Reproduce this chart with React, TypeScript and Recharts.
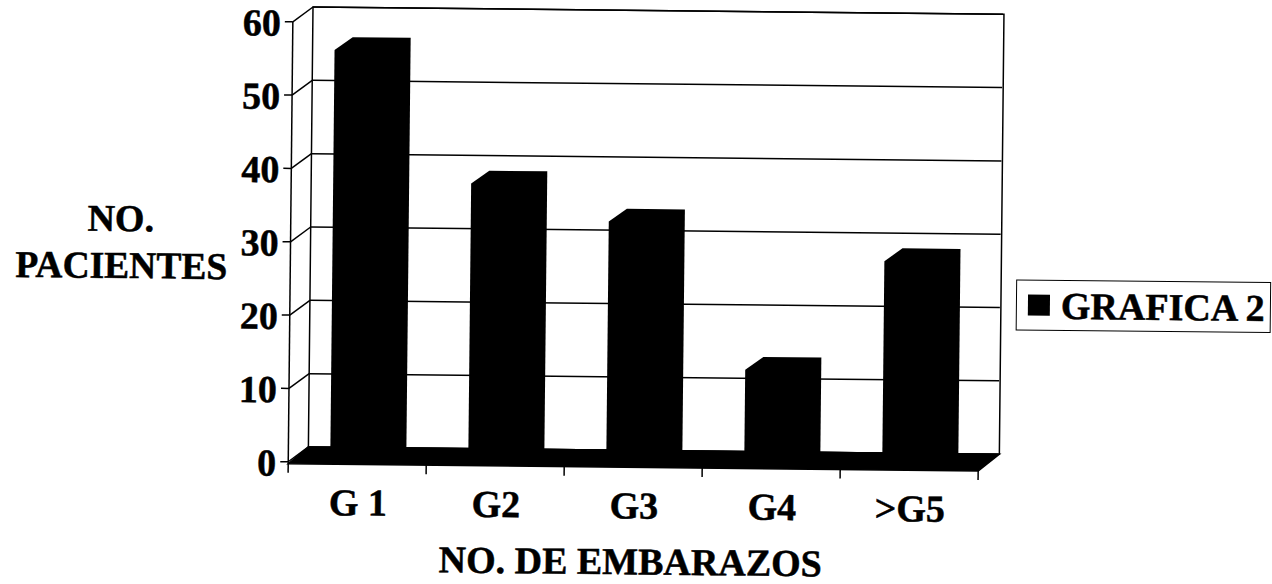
/**
 * Grafica 2: pacientes por numero de embarazos, drawn as a scanned-looking 3D column chart.
 */
import { BarChart, Bar, XAxis, YAxis, ReferenceArea, Legend } from 'recharts';

const categories = ['G 1', 'G2', 'G3', 'G4', '>G5'];
const patients = [56, 38, 33, 13, 28];
const yTicks = [0, 10, 20, 30, 40, 50, 60];
const seriesName = 'GRAFICA 2';
const xTitle = 'NO. DE EMBARAZOS';
const yTitle = ['NO.', 'PACIENTES'];

const chartData = categories.map((name, i) => ({ name, patients: patients[i] }));

const FONT = '"Liberation Serif", serif';
const FONT_SIZE = 38;
const PLOT_W = 690;
const BAND = PLOT_W / categories.length;
const DEPTH_X = 20;
const DEPTH_Y = 15;

const textProps = {
  fontFamily: FONT,
  fontWeight: 'bold',
  fontSize: FONT_SIZE,
  fill: '#000',
  stroke: '#000',
  strokeWidth: 0.5,
};

// 3D column: silhouette of front face plus top and side, all black
const Column = ({ x, y, width, height }: any) => {
  const left = x + 2;
  const top = y - 1.5;
  const bottom = y + height - 2;
  const right = left + width + 18;
  const points = [
    [left, bottom],
    [left, top],
    [left + 18, top - 13],
    [right, top - 13],
    [right, bottom],
  ];
  return <polygon points={points.map((p) => p.join(',')).join(' ')} fill="#000" />;
};

// back wall, side wall and floor from the plot rectangle
const Walls = ({ x, y, width, height }: any) => {
  const bottom = y + height;
  return (
    <g stroke="#000" strokeWidth={1.5} fill="none">
      <rect x={x + DEPTH_X} y={y - DEPTH_Y} width={width + 1} height={height} />
      <line x1={x} y1={y} x2={x} y2={bottom} />
      <polygon
        points={`${x},${bottom + 2} ${x + DEPTH_X},${bottom - DEPTH_Y} ${x + width + DEPTH_X + 1},${bottom - DEPTH_Y} ${x + width},${bottom + 2}`}
        fill="#000"
      />
    </g>
  );
};

const YTick = ({ x, y, payload }: any) => {
  const px = x + 8;
  return (
    <g>
      <line x1={px - 8} y1={y} x2={px} y2={y} stroke="#000" strokeWidth={1.5} />
      <line x1={px} y1={y} x2={px + DEPTH_X} y2={y - DEPTH_Y} stroke="#000" strokeWidth={1.5} />
      <line x1={px + DEPTH_X} y1={y - DEPTH_Y} x2={px + DEPTH_X + PLOT_W} y2={y - DEPTH_Y} stroke="#000" strokeWidth={1.5} />
      <text x={px - 12} y={y + 14} textAnchor="end" {...textProps}>
        {payload.value}
      </text>
    </g>
  );
};

const XTick = ({ x, y, payload, index }: any) => (
  <g>
    <line x1={x - BAND / 2} y1={y - 8} x2={x - BAND / 2} y2={y + 3} stroke="#000" strokeWidth={1.5} />
    {index === categories.length - 1 && (
      <line x1={x + BAND / 2} y1={y - 8} x2={x + BAND / 2} y2={y + 3} stroke="#000" strokeWidth={1.5} />
    )}
    <text x={x + 1} y={y + 45} textAnchor="middle" {...textProps}>
      {payload.value}
    </text>
  </g>
);

const XTitle = () => (
  <text x={636} y={571} textAnchor="middle" {...textProps}>
    {xTitle}
  </text>
);

const YTitle = () => (
  <g textAnchor="middle" {...textProps}>
    <text x={123} y={233}>{yTitle[0]}</text>
    <text x={124} y={280} textLength={212} lengthAdjust="spacingAndGlyphs">{yTitle[1]}</text>
  </g>
);

const LegendBox = () => (
  <div
    style={{
      boxSizing: 'border-box',
      width: 255,
      height: 51,
      border: '1.5px solid #000',
      background: '#fff',
      display: 'flex',
      alignItems: 'center',
      paddingLeft: 11,
      fontFamily: FONT,
      fontWeight: 'bold',
      fontSize: FONT_SIZE,
      lineHeight: 1,
      whiteSpace: 'nowrap',
      WebkitTextStroke: '0.5px #000',
    }}
  >
    <span style={{ width: 22, height: 21, background: '#000', marginRight: 11 }} />
    <span>{seriesName}</span>
  </div>
);

export default function App() {
  return (
    <div
      style={{
        position: 'absolute',
        left: 0,
        top: 0,
        width: 1272,
        height: 584,
        transform: 'rotate(0.6deg)',
        transformOrigin: '313px 7px',
      }}
    >
      <BarChart
        width={1272}
        height={584}
        data={chartData}
        barSize={58}
        margin={{ top: 22, right: 289, bottom: 62, left: 233 }}
      >
        <ReferenceArea y1={0} y2={60} shape={<Walls />} ifOverflow="visible" />
        <XAxis dataKey="name" height={60} tick={<XTick />} tickLine={false} axisLine={false} interval={0} label={<XTitle />} />
        <YAxis width={60} domain={[0, 60]} ticks={yTicks} tick={<YTick />} tickLine={false} axisLine={false} interval={0} label={<YTitle />} />
        <Legend
          layout="vertical"
          align="center"
          verticalAlign="middle"
          content={<LegendBox />}
          wrapperStyle={{ left: 1019, top: 272, width: 255 }}
        />
        <Bar dataKey="patients" name={seriesName} fill="#000" shape={<Column />} isAnimationActive={false} />
      </BarChart>
    </div>
  );
}
